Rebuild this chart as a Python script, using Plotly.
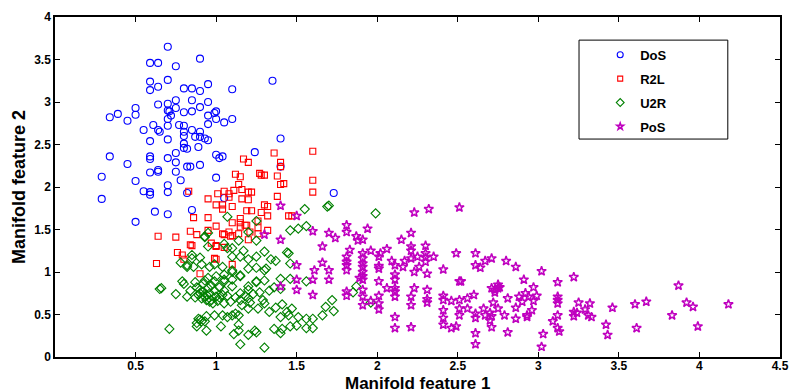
import plotly.graph_objects as go

# ---------------- data ----------------
dos_x = [0.70,0.59,0.64,0.75,0.90,0.59,0.64,0.59,0.70,0.80,0.85,0.90,0.95,1.10,0.64,0.70,0.75,0.85,0.95,0.70,
         0.71,0.75,0.80,0.85,0.90,0.95,0.99,1.00,1.10,0.34,0.39,0.45,0.50,0.50,0.55,0.61,0.64,0.65,0.70,0.70,
         0.72,0.59,0.70,0.77,0.80,0.80,0.80,0.85,0.87,0.90,0.90,0.93,0.95,0.95,1.00,1.05,0.80,0.82,0.80,0.89,
         0.34,0.45,0.59,0.59,0.70,0.75,0.75,0.82,0.84,0.90,1.00,1.02,1.04,0.29,0.50,0.59,0.64,0.64,0.75,0.78,
         0.70,1.00,0.55,0.59,0.59,0.70,0.82,0.29,0.62,0.70,0.85,0.50,1.05,1.35,1.40,1.24,1.40,1.73]
dos_y = [3.65,3.46,3.46,3.42,3.51,3.24,3.18,3.14,3.26,3.16,3.16,3.13,3.21,3.15,2.97,2.98,3.02,3.02,3.00,2.90,
         2.89,2.93,2.88,2.89,2.94,2.84,2.87,2.89,2.80,2.82,2.86,2.78,2.93,2.85,2.67,2.73,2.67,2.65,2.80,2.72,
         2.84,2.54,2.56,2.73,2.72,2.65,2.60,2.67,2.59,2.65,2.59,2.57,2.55,2.74,2.80,2.76,2.51,2.45,2.46,2.47,
         2.36,2.27,2.36,2.33,2.34,2.40,2.29,2.24,2.24,2.26,2.38,2.34,2.36,2.12,2.07,2.17,2.20,2.18,2.18,2.08,
         2.02,2.11,1.95,1.94,1.91,1.94,1.93,1.86,1.71,1.68,1.73,1.59,1.87,3.25,2.57,2.41,2.24,1.93]

r2l_x = [1.36,1.60,1.17,1.20,1.40,1.40,1.12,1.15,1.27,1.28,1.30,1.38,1.60,1.14,1.40,1.42,1.11,1.16,1.05,1.01,
         0.83,1.08,1.08,1.22,1.20,1.60,1.38,0.95,1.16,1.20,1.00,1.04,1.04,1.10,1.30,1.32,1.19,1.22,1.28,0.86,
         1.32,1.45,1.47,1.15,1.15,1.00,1.10,1.18,1.19,1.26,1.15,0.84,0.88,0.75,1.08,1.09,1.21,1.26,1.04,0.95,
         1.05,1.10,1.14,1.20,1.32,0.97,1.00,0.85,1.05,0.76,0.79,0.80,0.99,1.10,0.90,0.64,0.63,0.95,1.00,1.00,
         1.26,0.84]
r2l_y = [2.40,2.42,2.33,2.29,2.29,2.24,2.15,2.12,2.16,2.14,2.14,2.13,2.08,2.03,2.03,2.04,1.96,1.97,1.95,1.92,
         1.95,1.92,1.88,1.94,1.94,1.94,1.89,1.86,1.86,1.85,1.79,1.79,1.74,1.77,1.79,1.77,1.72,1.72,1.70,1.64,
         1.66,1.66,1.66,1.63,1.58,1.54,1.58,1.55,1.55,1.52,1.53,1.48,1.44,1.41,1.47,1.42,1.47,1.45,1.45,1.49,
         1.44,1.43,1.45,1.38,1.49,1.34,1.31,1.31,1.29,1.23,1.20,1.15,1.16,1.09,0.98,1.42,1.10,1.64,1.30,1.15,
         1.60,1.32]

u2r_x = [1.07,1.25,1.20,1.14,1.25,1.46,1.51,1.56,0.93,0.95,1.05,1.07,1.10,1.17,1.10,1.15,1.30,1.44,0.85,0.90,
         0.78,0.82,0.86,0.91,0.96,0.99,1.04,1.20,1.25,1.34,1.37,1.20,1.25,1.31,1.05,1.10,0.95,0.99,1.05,1.10,
         1.15,0.79,0.80,0.66,0.75,0.82,0.90,0.95,0.99,1.05,1.10,1.15,1.20,1.20,1.25,1.27,1.33,1.40,1.46,1.36,
         1.56,0.89,0.91,0.94,0.96,0.98,0.93,1.04,1.05,1.09,1.15,1.16,1.20,1.21,1.29,1.30,1.20,1.26,1.33,1.37,
         1.41,1.44,1.45,1.40,1.51,1.56,0.94,0.99,1.04,1.07,1.10,1.12,1.14,0.88,0.91,0.93,1.03,1.14,1.11,1.14,
         1.20,1.24,1.25,1.36,1.41,0.71,1.15,1.30,1.46,1.50,0.90,0.92,0.94,0.96,0.97,1.00,1.01,0.95,0.93,0.85,
         0.82,0.65,0.89,0.90,0.88,0.94,1.40,1.45,1.46,1.30,1.30,1.25,1.15,1.10,1.05,1.40,1.55,1.69,1.70,1.99,
         1.47,1.60,1.66,1.68,1.72,1.73,1.56,1.60,1.85,1.87,1.96,0.87,0.92,0.97,1.02,0.88,0.93,1.00,0.84,0.87,
         1.02,1.07,1.12,1.18,1.23]
u2r_y = [1.65,1.60,1.47,1.37,1.37,1.49,1.51,1.54,1.42,1.30,1.33,1.28,1.28,1.25,1.18,1.18,1.24,1.23,1.20,1.17,
         1.11,1.08,1.06,1.09,1.06,1.09,1.06,1.15,1.18,1.15,1.13,1.04,1.05,1.04,0.97,1.00,0.93,0.89,0.91,0.91,
         0.95,0.89,0.86,0.81,0.74,0.71,0.75,0.81,0.78,0.78,0.83,0.75,0.83,0.79,0.89,0.76,0.78,0.92,0.92,0.82,
         0.89,0.73,0.69,0.67,0.65,0.63,0.71,0.73,0.63,0.65,0.67,0.61,0.69,0.64,0.67,0.63,0.57,0.57,0.53,0.58,
         0.62,0.53,0.49,0.47,0.47,0.45,0.48,0.49,0.49,0.47,0.49,0.51,0.49,0.40,0.42,0.42,0.36,0.38,0.27,0.31,
         0.26,0.31,0.29,0.33,0.33,0.33,0.15,0.11,0.36,0.37,0.79,0.77,0.73,0.75,0.67,0.71,0.66,1.46,1.41,1.16,
         1.06,0.80,0.45,0.44,0.36,0.31,0.28,1.22,1.10,1.02,0.90,0.88,0.96,1.02,0.89,0.80,1.74,1.77,1.78,1.69,
         0.57,0.45,0.49,0.59,0.67,0.54,0.34,0.34,0.76,0.83,0.64,0.88,0.86,0.84,0.82,0.82,0.90,0.95,0.78,0.70,
         0.70,0.72,0.70,0.72,0.74]

pos_x = [1.50,1.60,1.70,1.74,1.66,1.81,1.81,1.87,1.88,1.91,1.94,1.83,1.81,1.81,1.81,1.81,1.66,1.61,1.50,1.70,
         1.70,1.50,1.60,1.50,1.60,1.81,1.81,1.91,1.91,1.96,2.02,2.06,2.15,2.21,2.21,2.21,2.21,2.30,2.30,2.30,
         2.30,2.35,2.25,1.91,1.91,1.91,1.91,1.91,1.89,2.01,2.01,2.01,2.01,2.06,2.01,2.01,2.01,1.91,1.91,1.91,
         1.96,2.09,2.11,2.11,2.11,2.11,2.11,2.11,2.16,2.17,2.23,2.26,2.31,2.21,2.21,2.23,2.31,2.31,2.31,2.11,
         2.11,2.21,2.41,2.41,2.41,2.41,2.41,2.41,2.46,2.46,2.49,2.49,2.51,2.23,2.32,2.51,2.52,2.51,2.51,2.51,
         2.56,2.56,2.60,2.61,2.61,2.61,2.61,2.61,2.61,2.64,2.67,2.71,2.66,2.67,2.71,2.73,2.75,2.73,2.75,2.72,
         2.75,2.70,2.71,2.70,2.71,2.80,2.86,3.02,2.91,2.97,2.76,3.12,3.22,3.87,2.88,2.92,2.94,2.97,2.99,2.81,
         2.90,2.86,2.96,2.79,2.93,2.93,2.86,2.81,3.03,3.02,3.12,3.12,3.12,3.12,3.09,3.12,3.13,3.22,3.24,3.22,
         3.25,3.29,3.32,3.31,3.33,3.42,3.43,3.46,3.60,3.67,3.61,3.83,3.92,3.96,3.99,4.18,1.30,1.40,1.40,1.40]
pos_y = [1.66,1.48,1.46,1.40,1.30,1.55,1.47,1.42,1.37,1.38,1.51,1.26,1.18,1.12,1.08,1.02,1.11,1.02,1.08,1.02,
         0.91,0.91,0.91,0.79,0.73,0.77,0.72,1.22,1.16,1.25,1.22,1.27,1.38,1.46,1.30,1.25,1.16,1.31,1.22,1.17,
         1.12,1.18,1.18,1.10,1.06,1.00,0.95,0.91,0.93,1.18,1.07,1.04,0.89,0.81,0.72,0.63,0.56,0.79,0.71,0.61,
         0.66,1.13,1.08,0.97,0.91,0.81,0.77,0.71,1.06,1.13,1.00,1.06,0.98,0.71,0.61,0.81,0.79,0.68,0.64,0.47,
         0.34,0.35,1.03,0.72,0.67,0.55,0.46,0.38,0.66,0.34,0.36,1.22,1.76,1.70,1.74,0.89,0.89,0.67,0.57,0.49,
         0.69,0.57,0.73,1.22,1.08,0.51,0.46,0.28,0.15,1.05,1.13,1.16,0.57,0.49,0.81,0.79,0.85,0.76,0.81,0.64,
         0.57,0.52,0.48,0.43,0.35,1.13,1.06,1.01,0.91,0.82,0.82,0.88,0.94,0.84,0.71,0.75,0.71,0.66,0.72,0.69,
         0.65,0.58,0.55,0.49,0.49,0.47,0.45,0.29,0.27,0.12,0.71,0.67,0.63,0.49,0.42,0.34,0.30,0.53,0.52,0.48,
         0.64,0.56,0.63,0.49,0.47,0.38,0.26,0.58,0.62,0.65,0.34,0.49,0.64,0.59,0.36,0.62,1.44,1.38,0.83,1.78]

x_ticks = [0.5, 1, 1.5, 2, 2.5, 3, 3.5, 4, 4.5]
x_tick_labels = ["0.5", "1", "1.5", "2", "2.5", "3", "3.5", "4", "4.5"]
y_ticks = [0, 0.5, 1, 1.5, 2, 2.5, 3, 3.5, 4]
y_tick_labels = ["0", "0.5", "1", "1.5", "2", "2.5", "3", "3.5", "4"]
x_title = "Manifold feature 1"
y_title = "Manifold feature 2"

series = [
    ("DoS", dos_x, dos_y, "circle-open", "#0000FF", 7, 1.1, 6),
    ("R2L", r2l_x, r2l_y, "square-open", "#FF0000", 6, 1.1, 5),
    ("U2R", u2r_x, u2r_y, "diamond-open", "#008000", 7, 1.1, 6),
    ("PoS", pos_x, pos_y, "star-open", "#BF00BF", 7, 1.5, 5),
]

fig = go.Figure()
for name, xs, ys, sym, col, sz, lw, lsz in series:
    fig.add_trace(go.Scatter(
        x=xs, y=ys, mode="markers", name=name, legendgroup=name, showlegend=False,
        marker=dict(symbol=sym, size=sz, color=col, line=dict(color=col, width=lw)),
    ))
    # legend entry with the smaller marker used in the reference legend
    fig.add_trace(go.Scatter(
        x=[None], y=[None], mode="markers", name=name, legendgroup=name, showlegend=True,
        marker=dict(symbol=sym, size=lsz, color=col, line=dict(color=col, width=lw)),
    ))

font_family = "Liberation Sans, Arial, Helvetica, sans-serif"

fig.update_layout(
    width=795, height=392,
    margin=dict(l=55, r=15, t=17, b=35),
    paper_bgcolor="white", plot_bgcolor="white",
    font=dict(family=font_family, color="black"),
    showlegend=True,
    legend=dict(
        x=0.752, y=0.933, xanchor="left", yanchor="top",
        bgcolor="rgba(0,0,0,0)", borderwidth=0,
        font=dict(size=13, family=font_family, weight="bold"),
        tracegroupgap=4, itemsizing="trace",
    ),
    shapes=[dict(type="rect", xref="paper", yref="paper",
                 x0=0.7228, x1=0.928, y0=0.641, y1=0.932,
                 line=dict(color="black", width=1), fillcolor="rgba(0,0,0,0)")],
    annotations=[dict(text=x_title, xref="paper", yref="paper", x=0.5, y=-0.0765,
                      xanchor="center", yanchor="middle", showarrow=False,
                      font=dict(size=17, family=font_family, weight="bold", color="black"))],
)

axis_common = dict(
    showgrid=False, zeroline=False, showline=True, linecolor="black", linewidth=1.5,
    mirror="ticks", ticks="inside", ticklen=5, tickcolor="black", tickwidth=1,
    tickfont=dict(size=12, family=font_family, weight="bold", color="black"),
    title_font=dict(size=18, family=font_family, weight="bold", color="black"),
)

fig.update_xaxes(range=[0, 4.5], tickmode="array", tickvals=x_ticks, ticktext=x_tick_labels,
                 ticklabelstandoff=-3, automargin=False, **axis_common)
fig.update_yaxes(range=[0, 4], tickmode="array", tickvals=y_ticks, ticktext=y_tick_labels,
                 title_text=y_title, title_standoff=4, automargin=False, **axis_common)

fig.write_html("out.html", config={"displayModeBar": False},
               post_script="document.body.style.margin='0';document.body.style.padding='0';")
